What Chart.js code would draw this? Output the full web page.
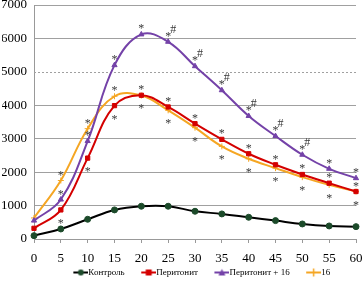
<!DOCTYPE html>
<html><head><meta charset="utf-8">
<script src="https://cdn.jsdelivr.net/npm/chart.js@4/dist/chart.umd.min.js"></script>
<style>html,body{margin:0;padding:0;background:#fff}#w{width:362px;height:284px}</style>
</head><body><div id="w"><canvas id="c"></canvas></div>
<script>
const times = [0,5,10,15,20,25,30,35,40,45,50,55,60];
const yTicks = [0,1000,2000,3000,4000,5000,6000,7000];
const dottedTick = 5000;
const seriesNames = ['Контроль','Перитонит','Перитонит + 16','16'];
const control = [100,300,590,870,980,980,830,750,650,550,450,390,370];
const peritonitis = [320,870,2420,3990,4300,3950,3450,2980,2550,2220,1930,1670,1420];
const peritonitis16 = [550,1180,2930,5200,6120,5900,5170,4450,3680,3080,2520,2100,1820];
const only16 = [630,1750,3300,4270,4290,3850,3330,2770,2400,2120,1850,1620,1420];
// significance marks per point
const peritonitis16Above = ['','*','*','*','*','*','*','*','*','*','*','*','*'];
const peritonitis16Hash = ['','','','','','#','#','#','#','#','#','',''];
const peritonitisAbove = ['','','','','*','*','*','*','*','*','*','*','*'];
const peritonitisBelow = ['','*','*','*','*','','','','','','','',''];
const only16Above = ['','*','*','*','','','','','','','','',''];
const only16Below = ['','','','','','*','*','*','*','*','*','*','*'];

const LEG_P = 24, LEG_FONT = 9;
function legendIcon(color, fill, style){
  const C = LEG_P + LEG_FONT;
  const c=document.createElement('canvas'); c.width=C; c.height=10;
  const g=c.getContext('2d');
  g.strokeStyle=color; g.lineWidth=2;
  g.beginPath(); g.moveTo(C-15,5); g.lineTo(C,5); g.stroke();
  const cx=C-7.5;
  g.fillStyle=fill; g.beginPath();
  if(style==='circle'){ g.arc(cx,5,3,0,Math.PI*2); g.fill(); }
  else if(style==='rect'){ g.fillRect(cx-3,2,6,6); }
  else if(style==='triangle'){ g.moveTo(cx,1.5); g.lineTo(cx+3.5,8); g.lineTo(cx-3.5,8); g.closePath(); g.fill(); }
  else { g.lineWidth=1.5; g.moveTo(cx,1); g.lineTo(cx,9); g.moveTo(cx-4,5); g.lineTo(cx+4,5); g.stroke(); }
  return c;
}
const colors = ['#000000','#d40000','#7442a8','#f5a623'];
const fills = ['#1c4a2a','#d40000','#7442a8','#f5a623'];
const styles = ['circle','rect','triangle','cross'];
const values = [control, peritonitis, peritonitis16, only16];
const above = [null, peritonitisAbove, peritonitis16Above, only16Above];
const below = [null, peritonitisBelow, null, only16Below];
const hashes = [null, null, peritonitis16Hash, null];

const marks = {
  id:'marks',
  beforeDatasetsDraw(chart){
    const ctx=chart.ctx, y=chart.scales.y, a=chart.chartArea;
    const py=Math.round(y.getPixelForValue(dottedTick))+0.5;
    ctx.save(); ctx.strokeStyle='#a0a0a0'; ctx.lineWidth=1; ctx.setLineDash([2,2]);
    ctx.beginPath(); ctx.moveTo(a.left,py); ctx.lineTo(a.right,py); ctx.stroke(); ctx.restore();
  },
  afterDatasetsDraw(chart){
    const ctx=chart.ctx; ctx.save();
    ctx.font='12px "Liberation Serif"'; ctx.fillStyle='#3a3a3a';
    ctx.textAlign='center'; ctx.textBaseline='alphabetic';
    chart.data.datasets.forEach((ds,di)=>{
      const meta=chart.getDatasetMeta(di);
      meta.data.forEach((p,i)=>{
        if(above[di] && above[di][i]) ctx.fillText(above[di][i], p.x, p.y-2);
        if(below[di] && below[di][i]) ctx.fillText(below[di][i], p.x, p.y+17);
        if(hashes[di] && hashes[di][i]) ctx.fillText(hashes[di][i], p.x+5, p.y-9);
      });
    });
    ctx.restore();
  }
};

new Chart(document.getElementById('c'),{
  type:'line',
  data:{
    labels:times,
    datasets: values.map((v,k)=>({
      label:seriesNames[k], data:v,
      borderColor:colors[k], backgroundColor:fills[k],
      borderWidth:2, tension:0.4,
      pointStyle: styles[k],
      pointRadius: 3, pointBorderColor: k===3?colors[k]:fills[k], pointBackgroundColor:fills[k],
      pointBorderWidth:1, fill:false
    }))
  },
  options:{
    responsive:true, maintainAspectRatio:false, animation:false,
    layout:{padding:{left:2,right:0,top:4,bottom:-3}},
    plugins:{
      tooltip:{enabled:false},
      legend:{position:'bottom', fullSize:false, labels:{
        font:{family:'"Liberation Serif"',size:LEG_FONT}, color:'#000',
        usePointStyle:true, pointStyleWidth:LEG_P, boxHeight:10, padding:3,
        generateLabels(chart){
          return seriesNames.map((n,k)=>({text:n, pointStyle:legendIcon(colors[k],fills[k],styles[k]), datasetIndex:k, strokeStyle:colors[k], fillStyle:fills[k], lineWidth:0, fontColor:'#000'}));
        }
      }}
    },
    scales:{
      x:{ type:'category', offset:false,
        afterFit(s){ s.height=26; s.paddingRight=6; s.paddingLeft=0; },
        grid:{display:true, drawOnChartArea:false, drawTicks:true, tickLength:4, color:'#999'},
        border:{color:'#999'},
        ticks:{font:{family:'"Liberation Serif"',size:13}, color:'#000', maxRotation:0, autoSkip:false, padding:8}
      },
      y:{ min:0, max:7000,
        afterBuildTicks(ax){ ax.ticks = yTicks.map(v=>({value:v})); },
        afterFit(s){ s.width=32; s.paddingTop=0; s.paddingBottom=0; },
        grid:{color:(ctx)=> (ctx.tick && ctx.tick.value===dottedTick) ? 'rgba(0,0,0,0)' : '#a0a0a0', drawTicks:false, lineWidth:1},
        border:{color:'#999'},
        ticks:{font:{family:'"Liberation Serif"',size:13}, color:'#000', padding:7, callback:(v)=>String(v)}
      }
    }
  },
  plugins:[marks]
});
</script></body></html>
